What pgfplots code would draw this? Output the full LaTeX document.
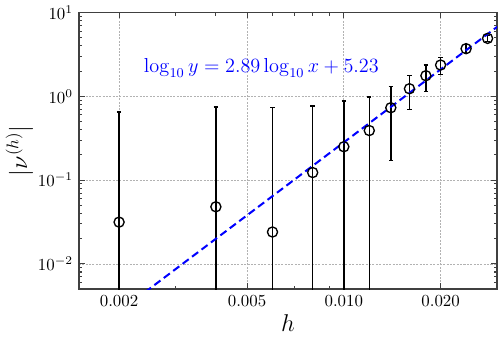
\documentclass[border=0pt]{standalone}
\usepackage{pgfplots}
\pgfplotsset{compat=1.18}
\usepackage{pgfplotstable}

% x, y, upper error, lower error (lower bars run off the log axis)
\pgfplotstableread{
x      y       ep      em
0.002  0.0315  0.6185  0.0305
0.004  0.048   0.697   0.047
0.006  0.024   0.706   0.023
0.008  0.123   0.643   0.122
0.010  0.25    0.63    0.249
0.012  0.39    0.59    0.389
0.014  0.73    0.57    0.56
0.016  1.23    0.53    0.53
0.018  1.76    0.60    0.63
0.020  2.36    0.54    0.54
0.024  3.70    0.49    0.46
0.028  4.91    0.45    0.40
}\datatable

\begin{document}
\begin{tikzpicture}
\begin{axis}[
    scale only axis,
    width=248pt, height=164pt,
    xmode=log, ymode=log,
    xmin=0.0015, xmax=0.030,
    ymin=0.005, ymax=10,
    xtick={0.002,0.005,0.01,0.02},
    xticklabels={0.002,0.005,0.010,0.020},
    minor xtick={0.003,0.004,0.006,0.007,0.008,0.009,0.03},
    tick align=inside,
    xtick pos=both, ytick pos=both,
    major tick length=3.5pt, minor tick length=2pt,
    tick style={black!75, line width=0.6pt},
    axis line style={black!75, line width=0.9pt},
    xmajorgrids, ymajorgrids,
    major grid style={gray!60, line width=0.4pt, dash pattern=on 1.2pt off 0.8pt},
    xlabel={\Large $h$},
    ylabel={\Large $|\nu^{(h)}|$},
    xlabel style={yshift=2pt},
    ylabel style={yshift=-4pt},
]

\addplot[
    black, line width=0.9pt,
    only marks, mark=o, mark size=3pt,
    mark options={line width=0.8pt},
    error bars/.cd,
        y dir=both, y explicit,
        error bar style={line width=0.9pt},
        error mark options={line width=0.7pt, mark size=1.3pt, rotate=90},
] table[x=x, y=y, y error plus=ep, y error minus=em] {\datatable};

\addplot[blue, line width=1.2pt, dash pattern=on 4.5pt off 2.5pt]
    coordinates {(0.0015,0.00117) (0.030,6.75)};

\node[blue, font=\large] at (axis cs:0.00554,2.16)
    {$\log_{10} y = 2.89\log_{10} x + 5.23$};

\end{axis}
\end{tikzpicture}
\end{document}
